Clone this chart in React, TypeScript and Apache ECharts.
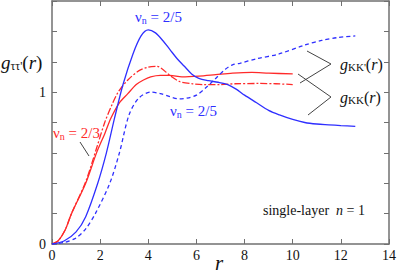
import React, { useEffect, useRef } from "react";
import * as echarts from "echarts";

// r ticks / g ticks
const xTicks = [0, 2, 4, 6, 8, 10, 12, 14];
const yLabelled = [0, 1];

// nu_n = 2/5, g_KK(r) (solid blue)
const blueSolid: [number, number][] = [
  [0, 0], [0.5, 0.02], [1.0, 0.08], [1.4, 0.18], [1.9, 0.4], [2.26, 0.6], [2.6, 0.83],
  [2.95, 1.05], [3.36, 1.25], [3.7, 1.37], [4.0, 1.41], [4.3, 1.39], [4.6, 1.34],
  [4.9, 1.28], [5.2, 1.22], [5.5, 1.17], [5.8, 1.12], [6.1, 1.09], [6.5, 1.075],
  [6.9, 1.065], [7.3, 1.05], [7.65, 1.02], [8.0, 0.98], [8.5, 0.93], [9.0, 0.88],
  [9.45, 0.85], [10, 0.82], [10.5, 0.8], [11, 0.79], [11.5, 0.785], [12, 0.78], [12.6, 0.775],
];
// nu_n = 2/5, g_KK'(r) (dashed blue)
const blueDashed: [number, number][] = [
  [0, 0], [0.5, 0.01], [1.0, 0.04], [1.4, 0.1], [1.8, 0.2], [2.4, 0.4], [2.8, 0.6],
  [3.2, 0.85], [3.6, 0.96], [4.1, 1.0], [4.5, 0.99], [4.9, 0.97], [5.3, 0.955],
  [5.6, 0.96], [6.0, 0.98], [6.4, 1.03], [6.8, 1.09], [7.2, 1.15], [7.5, 1.18],
  [7.8, 1.19], [8.5, 1.22], [9.4, 1.25], [10.5, 1.31], [11.2, 1.34], [11.9, 1.36], [12.6, 1.37],
];
// nu_n = 2/3, g_KK(r) (solid red)
const redSolid: [number, number][] = [
  [0, 0], [0.25, 0.02], [0.54, 0.09], [0.81, 0.2], [1.4, 0.4], [1.85, 0.6], [2.2, 0.73],
  [2.45, 0.83], [2.8, 0.93], [3.15, 0.99], [3.5, 1.05], [3.8, 1.08], [4.1, 1.1],
  [4.5, 1.11], [4.9, 1.11], [5.4, 1.1], [6.1, 1.105], [6.8, 1.115], [7.5, 1.125],
  [8.3, 1.13], [9, 1.125], [10, 1.12],
];
// nu_n = 2/3, g_KK'(r) (dash-dot red)
const redDashDot: [number, number][] = [
  [0, 0], [0.25, 0.02], [0.54, 0.09], [0.81, 0.2], [1.4, 0.41], [1.85, 0.63], [2.19, 0.8],
  [2.5, 0.92], [2.75, 1.0], [3.15, 1.08], [3.6, 1.14], [4.0, 1.165], [4.35, 1.17],
  [4.9, 1.11], [5.3, 1.07], [5.85, 1.055], [6.25, 1.05], [7, 1.05], [7.6, 1.055],
  [8.6, 1.057], [9.3, 1.055], [10, 1.05],
];

const SERIF = "Liberation Serif";
const BLUE = "#2f2fff";
const RED = "#ff2a2a";
const AX = "#707070";

type Part = { t: string; size: number; italic?: boolean; dy?: number };

function measure(t: string, font: string): number {
  const c = document.createElement("canvas").getContext("2d");
  if (!c) return t.length * 7;
  c.font = font;
  return c.measureText(t).width;
}

function mathLabel(x: number, yMid: number, parts: Part[], color: string) {
  const out: any[] = [];
  let cx = x;
  for (const p of parts) {
    const font = `${p.italic ? "italic " : ""}${p.size}px ${SERIF}`;
    const style: any = { text: p.t, fill: color, fontFamily: SERIF, fontSize: p.size, verticalAlign: "middle" };
    if (p.italic) style.fontStyle = "italic";
    out.push({ type: "text", x: cx, y: yMid + (p.dy || 0), style });
    cx += measure(p.t, font);
  }
  return out;
}

export default function App() {
  const ref = useRef<HTMLDivElement>(null);
  useEffect(() => {
    if (!ref.current) return;
    const chart = echarts.init(ref.current, null, { renderer: "svg" });
    const axisCommon = {
      type: "value" as const,
      axisLine: { show: true, onZero: false, lineStyle: { color: AX, width: 1.5 } },
      axisTick: { show: true, inside: true, length: 5, lineStyle: { color: AX, width: 1 } },
      splitLine: { show: false },
    };
    const nu = (x: number, y: number, val: string, color: string) =>
      mathLabel(x, y, [
        { t: "ν", size: 15 },
        { t: "n", size: 10, dy: 3 },
        { t: " = " + val, size: 15 },
      ], color);

    const graphics: any[] = [
      ...mathLabel(1, 62, [
        { t: "g", size: 19, italic: true },
        { t: "ττ'", size: 12, dy: 4 },
        { t: "(", size: 19 },
        { t: "r", size: 19, italic: true },
        { t: ")", size: 19 },
      ], "#111"),
      ...nu(135, 17, "2/5", BLUE),
      ...nu(170, 111, "2/5", BLUE),
      ...nu(53, 133, "2/3", RED),
      ...mathLabel(340, 64, [
        { t: "g", size: 16, italic: true },
        { t: "KK'", size: 11, dy: 3 },
        { t: "(", size: 16 },
        { t: "r", size: 16, italic: true },
        { t: ")", size: 16 },
      ], "#111"),
      ...mathLabel(340, 97, [
        { t: "g", size: 16, italic: true },
        { t: "KK", size: 11, dy: 3 },
        { t: "(", size: 16 },
        { t: "r", size: 16, italic: true },
        { t: ")", size: 16 },
      ], "#111"),
      ...mathLabel(263, 210, [
        { t: "single-layer  ", size: 14 },
        { t: "n", size: 14, italic: true },
        { t: " = 1", size: 14 },
      ], "#111"),
      ...mathLabel(215, 263, [{ t: "r", size: 21, italic: true }], "#111"),
      { type: "polyline", shape: { points: [[307, 51], [331, 64], [300, 83]] }, style: { stroke: "#444", lineWidth: 1, fill: "none" } },
      { type: "polyline", shape: { points: [[298, 74], [331, 97], [308, 115]] }, style: { stroke: "#444", lineWidth: 1, fill: "none" } },
      { type: "line", shape: { x1: 80, y1: 142, x2: 89, y2: 156 }, style: { stroke: "#444", lineWidth: 1 } },
    ];

    const line = (data: [number, number][], color: string, type: any) => ({
      type: "line",
      data,
      showSymbol: false,
      symbol: "none",
      smooth: 0.3,
      lineStyle: { color, width: 1.3, type },
      xAxisIndex: 0,
      yAxisIndex: 0,
    });

    chart.setOption({
      animation: false,
      grid: { left: 52, right: 8, top: 1, bottom: 36 },
      xAxis: [
        {
          ...axisCommon, position: "bottom", min: 0, max: 14, interval: 2,
          axisLabel: {
            fontSize: 14, fontFamily: SERIF, color: "#111", margin: 4,
            formatter: (v: number) => (xTicks.includes(v) ? String(v) : ""),
          },
        },
        { ...axisCommon, position: "top", min: 0, max: 14, interval: 2, axisLabel: { show: false } },
      ],
      yAxis: [
        {
          ...axisCommon, position: "left", min: 0, max: 1.6, interval: 0.2,
          axisLabel: {
            fontSize: 14, fontFamily: SERIF, color: "#111", margin: 6,
            formatter: (v: number) => {
              const hit = yLabelled.find((y) => Math.abs(y - v) < 1e-6);
              return hit === undefined ? "" : String(hit);
            },
          },
        },
        { ...axisCommon, position: "right", min: 0, max: 1.6, interval: 0.2, axisLabel: { show: false } },
      ],
      series: [
        line(redDashDot, RED, [7, 2, 2, 2]),
        line(redSolid, RED, "solid"),
        line(blueDashed, BLUE, [4, 3]),
        line(blueSolid, BLUE, "solid"),
      ],
      graphic: graphics,
    });
    return () => chart.dispose();
  }, []);
  return (
    <>
      <div
        aria-hidden="true"
        style={{
          position: "fixed", left: 0, top: 0, zIndex: 0, fontFamily: SERIF, fontSize: 14,
          color: "transparent", whiteSpace: "nowrap",
        }}
      >
        <span>sg0124</span>
        <i>gr</i>
      </div>
      <div
        ref={ref}
        style={{ position: "fixed", left: 0, top: 0, zIndex: 1, width: 399, height: 280, background: "#fff" }}
      />
    </>
  );
}
